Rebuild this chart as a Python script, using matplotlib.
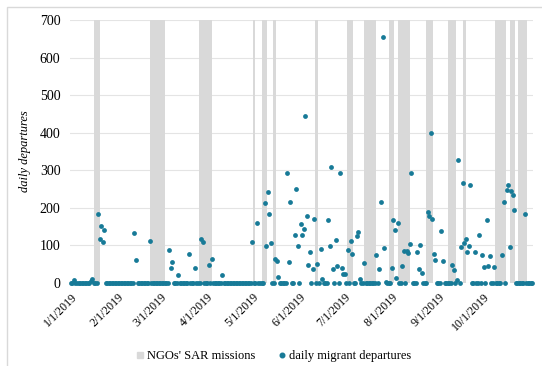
import matplotlib
matplotlib.use("Agg")
import matplotlib.pyplot as plt
from matplotlib.lines import Line2D
from matplotlib.patches import Rectangle
import pandas as pd

plt.rcParams['font.family'] = ['Liberation Serif', 'DejaVu Serif']

# ---- data ----
first_day = "2019-01-01"
last_day = "2019-11-02"

nonzero_dates = [
    "2019-01-03", "2019-01-14", "2019-01-15", "2019-01-19", "2019-01-20", "2019-01-21",
    "2019-01-22", "2019-01-23", "2019-02-12", "2019-02-13", "2019-02-22", "2019-03-07",
    "2019-03-08", "2019-03-09", "2019-03-13", "2019-03-20", "2019-03-24", "2019-03-28",
    "2019-03-29", "2019-04-02", "2019-04-04", "2019-04-11", "2019-05-01", "2019-05-04",
    "2019-05-09", "2019-05-10", "2019-05-11", "2019-05-12", "2019-05-13", "2019-05-16",
    "2019-05-17", "2019-05-18", "2019-05-24", "2019-05-25", "2019-05-26", "2019-05-29",
    "2019-05-30", "2019-05-31", "2019-06-02", "2019-06-03", "2019-06-04", "2019-06-05",
    "2019-06-06", "2019-06-07", "2019-06-08", "2019-06-10", "2019-06-11", "2019-06-13",
    "2019-06-15", "2019-06-16", "2019-06-20", "2019-06-21", "2019-06-22", "2019-06-23",
    "2019-06-25", "2019-06-26", "2019-06-28", "2019-06-29", "2019-06-30", "2019-07-01",
    "2019-07-03", "2019-07-05", "2019-07-06", "2019-07-09", "2019-07-10", "2019-07-11",
    "2019-07-14", "2019-07-22", "2019-07-24", "2019-07-25", "2019-07-26", "2019-07-27",
    "2019-07-28", "2019-08-01", "2019-08-02", "2019-08-03", "2019-08-04", "2019-08-05",
    "2019-08-08", "2019-08-09", "2019-08-11", "2019-08-12", "2019-08-13", "2019-08-14",
    "2019-08-18", "2019-08-19", "2019-08-20", "2019-08-21", "2019-08-25", "2019-08-26",
    "2019-08-27", "2019-08-28", "2019-08-29", "2019-08-30", "2019-09-03", "2019-09-04",
    "2019-09-10", "2019-09-11", "2019-09-13", "2019-09-14", "2019-09-16", "2019-09-17",
    "2019-09-18", "2019-09-19", "2019-09-20", "2019-09-21", "2019-09-22", "2019-09-25",
    "2019-09-28", "2019-09-30", "2019-10-01", "2019-10-03", "2019-10-04", "2019-10-05",
    "2019-10-08", "2019-10-13", "2019-10-14", "2019-10-16", "2019-10-17", "2019-10-18",
    "2019-10-19", "2019-10-20", "2019-10-21", "2019-10-28",
]
nonzero_values = [
    6, 5, 9, 183, 117, 152,
    108, 140, 132, 60, 112, 86,
    39, 54, 21, 76, 39, 116,
    108, 48, 62, 20, 108, 160,
    213, 98, 242, 183, 107, 64,
    59, 16, 291, 56, 214, 127,
    249, 98, 156, 127, 143, 444,
    177, 48, 83, 37, 171, 50,
    91, 9, 166, 98, 307, 36,
    115, 45, 293, 40, 23, 22,
    87, 110, 76, 124, 134, 9,
    53, 74, 36, 214, 654, 92,
    3, 39, 166, 140, 12, 158,
    44, 85, 85, 80, 103, 293,
    83, 37, 101, 26, 188, 179,
    398, 170, 76, 60, 138, 59,
    48, 33, 7, 327, 94, 266,
    107, 116, 83, 99, 260, 81,
    127, 74, 43, 166, 45, 71,
    43, 74, 214, 246, 260, 96,
    244, 235, 194, 184,
]

sar_start = ["2019-01-17", "2019-02-23", "2019-03-27", "2019-05-02", "2019-05-08",
             "2019-05-15", "2019-06-12", "2019-07-03", "2019-07-14", "2019-07-31",
             "2019-08-06", "2019-08-24", "2019-09-08", "2019-09-18", "2019-10-09",
             "2019-10-19", "2019-10-24"]
sar_end = ["2019-01-20", "2019-03-04", "2019-04-04", "2019-05-02", "2019-05-10",
           "2019-05-16", "2019-06-13", "2019-07-06", "2019-07-21", "2019-08-02",
           "2019-08-13", "2019-08-28", "2019-09-12", "2019-09-19", "2019-10-15",
           "2019-10-21", "2019-10-29"]

y_ticks = [0, 100, 200, 300, 400, 500, 600, 700]
month_ticks = ["2019-01-01", "2019-02-01", "2019-03-01", "2019-04-01", "2019-05-01",
               "2019-06-01", "2019-07-01", "2019-08-01", "2019-09-01", "2019-10-01"]

# ---- build daily series ----
days = pd.date_range(first_day, last_day, freq="D")
series = pd.Series(0.0, index=days)
series.loc[pd.to_datetime(nonzero_dates)] = nonzero_values

TEAL = "#177a97"
BAND = "#d9d9d9"
GRID = "#e4e4e4"

W, H = 542, 366
fig = plt.figure(figsize=(W / 100, H / 100), dpi=100)
left, right, bottom, top = 70.2, 533.0, 282.7, 20.0
ax = fig.add_axes([left / W, 1 - bottom / H, (right - left) / W, (bottom - top) / H])

half = pd.Timedelta(hours=12)
for s, e in zip(pd.to_datetime(sar_start), pd.to_datetime(sar_end)):
    ax.axvspan(s - half, e + half, color=BAND, lw=0, zorder=1)

ax.scatter(series.index, series.values, s=12, color=TEAL, linewidths=0,
           zorder=3, clip_on=False)

ax.set_xlim(days[0] - half, days[-1] + half)
ax.set_ylim(0, 700)
ax.set_yticks(y_ticks)
ax.set_yticklabels([str(v) for v in y_ticks], fontsize=10)
mt = pd.to_datetime(month_ticks)
ax.set_xticks(mt)
ax.set_xticklabels([f"{d.month}/{d.day}/{d.year}" for d in mt], fontsize=8.5,
                   rotation=45, ha="right", va="top", rotation_mode="anchor")
ax.tick_params(axis="both", length=0)
ax.tick_params(axis="y", pad=7)
ax.tick_params(axis="x", pad=6)
ax.set_axisbelow(True)
ax.yaxis.grid(True, color=GRID, lw=0.8)
ax.xaxis.grid(False)
for sp in ax.spines.values():
    sp.set_visible(False)
ax.set_facecolor("white")

ax.set_ylabel("daily departures", fontsize=9, style="italic", labelpad=6)

handles = [Line2D([], [], marker="s", color=BAND, lw=0, markersize=4.5),
           Line2D([], [], marker="o", color=TEAL, lw=0, markersize=3.3)]
fig.legend(handles, ["NGOs' SAR missions", "daily migrant departures"],
           loc="center", bbox_to_anchor=(0.504, 0.027), ncol=2, frameon=False,
           fontsize=9, handletextpad=0.1, columnspacing=1.8, handlelength=0.8)

fig.add_artist(Rectangle((7 / W, -0.1), 1.2, 1 - 7 / H + 0.1, transform=fig.transFigure,
                         fill=False, edgecolor="#d9d9d9", lw=1))

fig.savefig("out.png", dpi=100)
